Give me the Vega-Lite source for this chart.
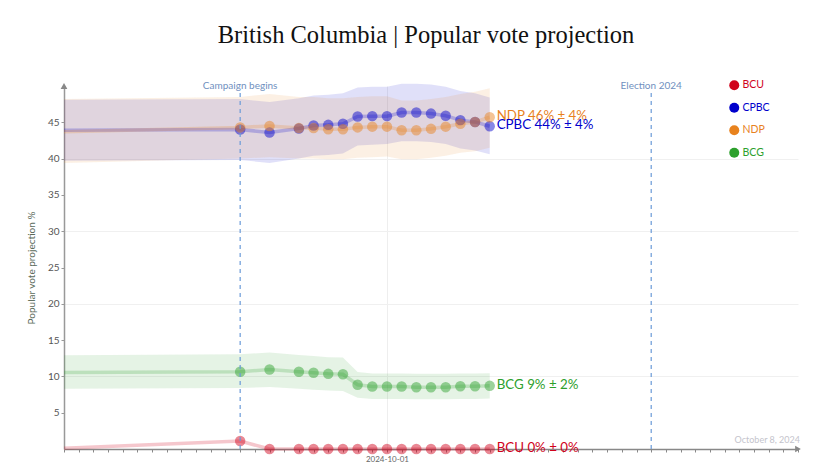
{
  "$schema": "https://vega.github.io/schema/vega-lite/v6.json",
  "autosize": "none",
  "width": 734,
  "height": 363,
  "padding": {"left": 64, "top": 86, "right": 22, "bottom": 22},
  "background": "white",
  "title": {
    "text": "British Columbia | Popular vote projection",
    "font": "Liberation Serif",
    "fontSize": 24.5,
    "fontWeight": "normal",
    "color": "#111111",
    "anchor": "middle",
    "baseline": "alphabetic",
    "offset": 13,
    "dx": -5
  },
  "config": {
    "view": {"stroke": null},
    "font": "Lato",
    "axis": {"labelFont": "Lato", "titleFont": "Lato"}
  },
  "datasets": {
    "polls": [
      {"party": "CPBC", "date": "2024-09-09", "value": 43.9, "lower": 39.7, "upper": 48.1, "dot": false},
      {"party": "CPBC", "date": "2024-09-21", "value": 44.0, "lower": 39.8, "upper": 48.2, "dot": true},
      {"party": "CPBC", "date": "2024-09-23", "value": 43.6, "lower": 39.4, "upper": 47.8, "dot": true},
      {"party": "CPBC", "date": "2024-09-25", "value": 44.15, "lower": 40.0, "upper": 48.3, "dot": true},
      {"party": "CPBC", "date": "2024-09-26", "value": 44.55, "lower": 40.4, "upper": 48.7, "dot": true},
      {"party": "CPBC", "date": "2024-09-27", "value": 44.65, "lower": 40.5, "upper": 48.8, "dot": true},
      {"party": "CPBC", "date": "2024-09-28", "value": 44.8, "lower": 40.7, "upper": 49.0, "dot": true},
      {"party": "CPBC", "date": "2024-09-29", "value": 45.8, "lower": 41.8, "upper": 49.8, "dot": true},
      {"party": "CPBC", "date": "2024-09-30", "value": 45.85, "lower": 41.9, "upper": 49.9, "dot": true},
      {"party": "CPBC", "date": "2024-10-01", "value": 45.85, "lower": 42.0, "upper": 49.9, "dot": true},
      {"party": "CPBC", "date": "2024-10-02", "value": 46.35, "lower": 42.4, "upper": 50.3, "dot": true},
      {"party": "CPBC", "date": "2024-10-03", "value": 46.35, "lower": 42.4, "upper": 50.3, "dot": true},
      {"party": "CPBC", "date": "2024-10-04", "value": 46.2, "lower": 42.3, "upper": 50.2, "dot": true},
      {"party": "CPBC", "date": "2024-10-05", "value": 45.9, "lower": 42.0, "upper": 49.9, "dot": true},
      {"party": "CPBC", "date": "2024-10-06", "value": 45.3, "lower": 41.4, "upper": 49.3, "dot": true},
      {"party": "CPBC", "date": "2024-10-07", "value": 45.05, "lower": 41.1, "upper": 49.0, "dot": true},
      {"party": "CPBC", "date": "2024-10-08", "value": 44.46, "lower": 40.6, "upper": 48.4, "dot": true},

      {"party": "NDP", "date": "2024-09-09", "value": 43.7, "lower": 39.4, "upper": 48.2, "dot": false},
      {"party": "NDP", "date": "2024-09-21", "value": 44.3, "lower": 40.0, "upper": 48.5, "dot": true},
      {"party": "NDP", "date": "2024-09-23", "value": 44.5, "lower": 40.2, "upper": 48.9, "dot": true},
      {"party": "NDP", "date": "2024-09-25", "value": 44.2, "lower": 40.0, "upper": 48.5, "dot": true},
      {"party": "NDP", "date": "2024-09-26", "value": 44.2, "lower": 40.0, "upper": 48.5, "dot": true},
      {"party": "NDP", "date": "2024-09-27", "value": 44.05, "lower": 39.9, "upper": 48.3, "dot": true},
      {"party": "NDP", "date": "2024-09-28", "value": 44.05, "lower": 39.9, "upper": 48.3, "dot": true},
      {"party": "NDP", "date": "2024-09-29", "value": 44.3, "lower": 40.1, "upper": 48.5, "dot": true},
      {"party": "NDP", "date": "2024-09-30", "value": 44.4, "lower": 40.2, "upper": 48.6, "dot": true},
      {"party": "NDP", "date": "2024-10-01", "value": 44.4, "lower": 40.3, "upper": 48.6, "dot": true},
      {"party": "NDP", "date": "2024-10-02", "value": 43.9, "lower": 39.9, "upper": 48.0, "dot": true},
      {"party": "NDP", "date": "2024-10-03", "value": 43.9, "lower": 39.9, "upper": 48.0, "dot": true},
      {"party": "NDP", "date": "2024-10-04", "value": 44.1, "lower": 40.1, "upper": 48.2, "dot": true},
      {"party": "NDP", "date": "2024-10-05", "value": 44.4, "lower": 40.4, "upper": 48.5, "dot": true},
      {"party": "NDP", "date": "2024-10-06", "value": 44.8, "lower": 40.8, "upper": 48.9, "dot": true},
      {"party": "NDP", "date": "2024-10-07", "value": 45.05, "lower": 41.0, "upper": 49.2, "dot": true},
      {"party": "NDP", "date": "2024-10-08", "value": 45.7, "lower": 41.5, "upper": 49.7, "dot": true},

      {"party": "BCG", "date": "2024-09-09", "value": 10.55, "lower": 8.3, "upper": 12.9, "dot": false},
      {"party": "BCG", "date": "2024-09-21", "value": 10.65, "lower": 8.4, "upper": 13.05, "dot": true},
      {"party": "BCG", "date": "2024-09-23", "value": 10.95, "lower": 8.55, "upper": 13.3, "dot": true},
      {"party": "BCG", "date": "2024-09-25", "value": 10.65, "lower": 8.3, "upper": 12.95, "dot": true},
      {"party": "BCG", "date": "2024-09-26", "value": 10.5, "lower": 8.15, "upper": 12.8, "dot": true},
      {"party": "BCG", "date": "2024-09-27", "value": 10.35, "lower": 8.05, "upper": 12.65, "dot": true},
      {"party": "BCG", "date": "2024-09-28", "value": 10.3, "lower": 8.0, "upper": 12.6, "dot": true},
      {"party": "BCG", "date": "2024-09-29", "value": 8.85, "lower": 7.05, "upper": 10.6, "dot": true},
      {"party": "BCG", "date": "2024-09-30", "value": 8.6, "lower": 6.9, "upper": 10.4, "dot": true},
      {"party": "BCG", "date": "2024-10-01", "value": 8.6, "lower": 6.9, "upper": 10.4, "dot": true},
      {"party": "BCG", "date": "2024-10-02", "value": 8.6, "lower": 6.9, "upper": 10.4, "dot": true},
      {"party": "BCG", "date": "2024-10-03", "value": 8.5, "lower": 6.85, "upper": 10.35, "dot": true},
      {"party": "BCG", "date": "2024-10-04", "value": 8.5, "lower": 6.85, "upper": 10.35, "dot": true},
      {"party": "BCG", "date": "2024-10-05", "value": 8.5, "lower": 6.85, "upper": 10.35, "dot": true},
      {"party": "BCG", "date": "2024-10-06", "value": 8.65, "lower": 6.9, "upper": 10.4, "dot": true},
      {"party": "BCG", "date": "2024-10-07", "value": 8.65, "lower": 6.9, "upper": 10.4, "dot": true},
      {"party": "BCG", "date": "2024-10-08", "value": 8.7, "lower": 6.95, "upper": 10.45, "dot": true},

      {"party": "BCU", "date": "2024-09-09", "value": 0.1, "lower": 0.1, "upper": 0.1, "dot": false},
      {"party": "BCU", "date": "2024-09-21", "value": 1.1, "lower": 1.1, "upper": 1.1, "dot": true},
      {"party": "BCU", "date": "2024-09-23", "value": 0, "lower": 0, "upper": 0, "dot": true},
      {"party": "BCU", "date": "2024-09-25", "value": 0, "lower": 0, "upper": 0, "dot": true},
      {"party": "BCU", "date": "2024-09-26", "value": 0, "lower": 0, "upper": 0, "dot": true},
      {"party": "BCU", "date": "2024-09-27", "value": 0, "lower": 0, "upper": 0, "dot": true},
      {"party": "BCU", "date": "2024-09-28", "value": 0, "lower": 0, "upper": 0, "dot": true},
      {"party": "BCU", "date": "2024-09-29", "value": 0, "lower": 0, "upper": 0, "dot": true},
      {"party": "BCU", "date": "2024-09-30", "value": 0, "lower": 0, "upper": 0, "dot": true},
      {"party": "BCU", "date": "2024-10-01", "value": 0, "lower": 0, "upper": 0, "dot": true},
      {"party": "BCU", "date": "2024-10-02", "value": 0, "lower": 0, "upper": 0, "dot": true},
      {"party": "BCU", "date": "2024-10-03", "value": 0, "lower": 0, "upper": 0, "dot": true},
      {"party": "BCU", "date": "2024-10-04", "value": 0, "lower": 0, "upper": 0, "dot": true},
      {"party": "BCU", "date": "2024-10-05", "value": 0, "lower": 0, "upper": 0, "dot": true},
      {"party": "BCU", "date": "2024-10-06", "value": 0, "lower": 0, "upper": 0, "dot": true},
      {"party": "BCU", "date": "2024-10-07", "value": 0, "lower": 0, "upper": 0, "dot": true},
      {"party": "BCU", "date": "2024-10-08", "value": 0, "lower": 0, "upper": 0, "dot": true}
    ],
    "labels": [
      {"party": "NDP", "date": "2024-10-08", "value": 45.7, "text": "NDP 46% ± 4%"},
      {"party": "CPBC", "date": "2024-10-08", "value": 44.46, "text": "CPBC 44% ± 4%"},
      {"party": "BCG", "date": "2024-10-08", "value": 8.7, "text": "BCG 9% ± 2%"},
      {"party": "BCU", "date": "2024-10-08", "value": 0, "text": "BCU 0% ± 0%"}
    ],
    "events": [
      {"event": "Campaign begins", "date": "2024-09-21"},
      {"event": "Election 2024", "date": "2024-10-19"}
    ]
  },
  "resolve": {"legend": {"color": "independent"}},
  "layer": [
    {
      "data": {"name": "polls"},
      "mark": {"type": "area", "opacity": 0.12},
      "encoding": {
        "x": {
          "field": "date", "type": "temporal",
          "scale": {"type": "utc", "domain": [{"year": 2024, "month": 9, "date": 9, "utc": true}, {"year": 2024, "month": 10, "date": 29, "utc": true}]},
          "axis": {
            "title": null,
            "tickCount": {"interval": "day", "step": 1},
            "labelExpr": "utcFormat(datum.value, '%Y-%m-%d') === '2024-10-01' ? '2024-10-01' : ''",
            "labelOverlap": false,
            "labelFontSize": 8,
            "labelColor": "#666666",
            "labelPadding": 3,
            "tickSize": 3,
            "tickColor": "#888888",
            "domainColor": "#888888",
            "domainWidth": 1.5,
            "grid": true,
            "gridColor": "#eeeeee",
            "gridOpacity": {"condition": {"test": "utcFormat(datum.value, '%Y-%m-%d') === '2024-10-01'", "value": 1}, "value": 0}
          }
        },
        "y": {
          "field": "lower", "type": "quantitative",
          "scale": {"domain": [0, 50], "nice": false},
          "axis": {
            "title": "Popular vote projection %",
            "titleFontSize": 10,
            "titleFontWeight": "normal",
            "titleColor": "#5a6a5a",
            "titlePadding": 11,
            "values": [5, 10, 15, 20, 25, 30, 35, 40, 45],
            "labelFontSize": 10,
            "labelColor": "#555555",
            "labelPadding": 2,
            "tickSize": 3,
            "tickColor": "#999999",
            "domainColor": "#999999",
            "domainWidth": 1.5,
            "grid": true,
            "gridColor": "#f0f0f0",
            "gridOpacity": {"condition": {"test": "datum.value % 10 === 0", "value": 1}, "value": 0}
          }
        },
        "y2": {"field": "upper"},
        "color": {
          "field": "party", "type": "nominal",
          "scale": {"domain": ["BCU", "CPBC", "NDP", "BCG"], "range": ["#d0021b", "#0000cc", "#e8821e", "#2ca02c"]},
          "legend": null
        },
        "detail": {"field": "party"}
      }
    },
    {
      "data": {"name": "polls"},
      "mark": {"type": "line", "strokeWidth": 3.5, "opacity": 0.22},
      "encoding": {
        "x": {"field": "date", "type": "temporal"},
        "y": {"field": "value", "type": "quantitative"},
        "color": {"field": "party", "type": "nominal", "legend": null}
      }
    },
    {
      "data": {"name": "polls"},
      "transform": [{"filter": "datum.dot"}],
      "mark": {"type": "point", "filled": true, "size": 110, "opacity": 0.47, "strokeWidth": 0},
      "encoding": {
        "x": {"field": "date", "type": "temporal"},
        "y": {"field": "value", "type": "quantitative"},
        "color": {
          "field": "party", "type": "nominal",
          "legend": {
            "title": null,
            "orient": "none",
            "legendX": 665,
            "legendY": -6,
            "padding": 0,
            "symbolType": "circle",
            "symbolSize": 100,
            "symbolOpacity": 1,
            "symbolStrokeWidth": 0,
            "rowPadding": 11.5,
            "labelFontSize": 10.5,
            "labelOffset": 3,
            "labelFont": "Lato",
            "labelColor": {"expr": "scale('color', datum.value)"}
          }
        }
      }
    },
    {
      "data": {"name": "labels"},
      "mark": {"type": "text", "align": "left", "baseline": "middle", "dx": 7, "dy": -1, "fontSize": 13.3, "font": "Lato"},
      "encoding": {
        "x": {"field": "date", "type": "temporal"},
        "y": {"field": "value", "type": "quantitative"},
        "text": {"field": "text"},
        "color": {"field": "party", "type": "nominal", "legend": null}
      }
    },
    {
      "data": {"name": "events"},
      "mark": {"type": "rule", "strokeDash": [4, 4], "strokeWidth": 1.2, "color": "#6a9ad8"},
      "encoding": {
        "x": {"field": "date", "type": "temporal"},
        "y": {"datum": 0},
        "y2": {"datum": 49.2}
      }
    },
    {
      "data": {"name": "events"},
      "mark": {"type": "text", "baseline": "middle", "align": "center", "fontSize": 10, "color": "#7090c0", "font": "Lato"},
      "encoding": {
        "x": {"field": "date", "type": "temporal"},
        "y": {"datum": 50},
        "text": {"field": "event"}
      }
    },
    {
      "data": {"values": [{"note": "October 8, 2024", "date": "2024-10-29"}]},
      "mark": {"type": "text", "align": "right", "baseline": "middle", "fontSize": 9, "color": "#c4c4cc", "font": "Lato", "dx": 2},
      "encoding": {
        "x": {"field": "date", "type": "temporal"},
        "y": {"datum": 1.3},
        "text": {"field": "note"}
      }
    },
    {
      "data": {"values": [{"date": "2024-09-09", "v": 50, "shape": "triangle-up"}, {"date": "2024-10-29", "v": 0, "shape": "triangle-right"}]},
      "mark": {"type": "point", "filled": true, "size": 45, "color": "#888888", "opacity": 1},
      "encoding": {
        "x": {"field": "date", "type": "temporal"},
        "y": {"field": "v", "type": "quantitative"},
        "shape": {"field": "shape", "type": "nominal", "scale": null}
      }
    }
  ]
}
